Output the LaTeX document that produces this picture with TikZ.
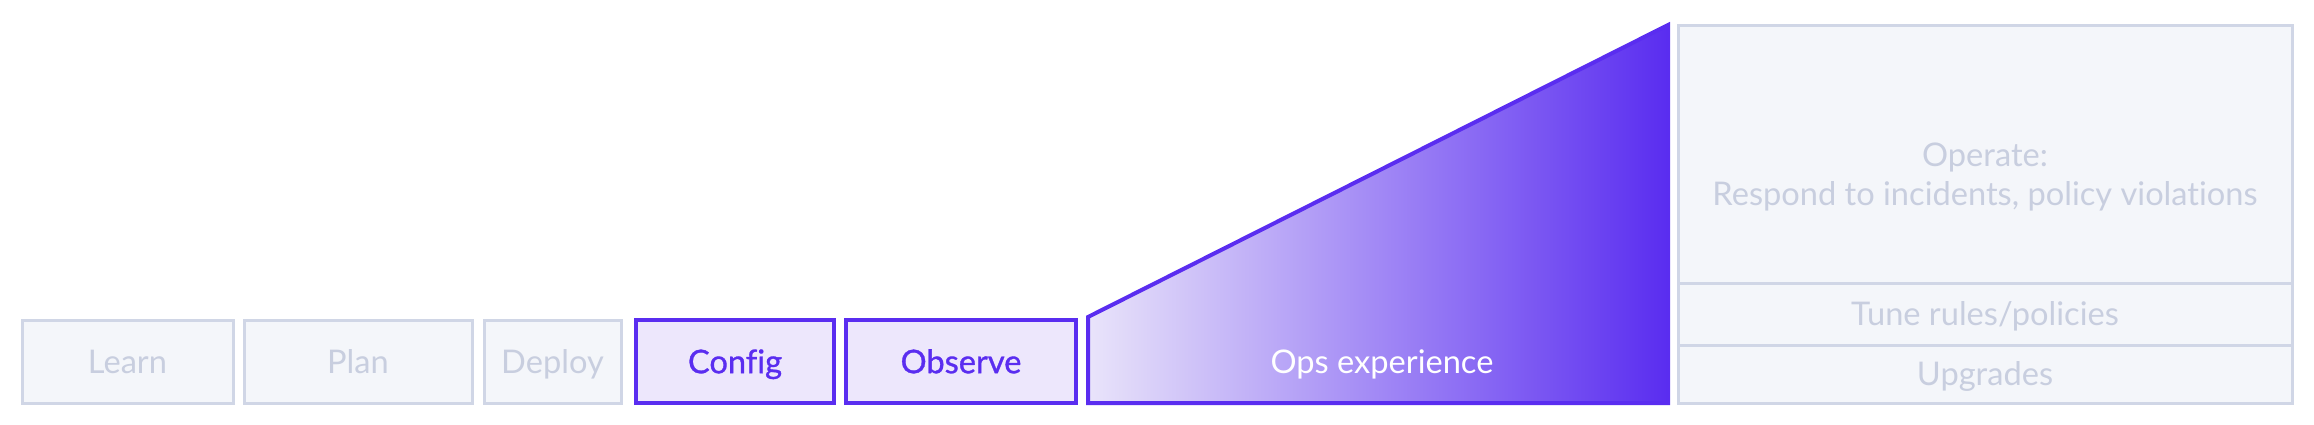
\documentclass[tikz,border=0pt]{standalone}
\usepackage{fontspec}
\setmainfont[Ligatures=NoCommon]{Lato}
\newfontfamily\medfont[FakeBold=1, Ligatures=NoCommon]{Lato}
\usepackage{tikz}
\definecolor{ops_purple}{HTML}{5A2DF0}
\definecolor{ops_lavender}{HTML}{EDE7FC}
\definecolor{ops_fade}{HTML}{E9E4FA}
\definecolor{grey_fill}{HTML}{F4F6FA}
\definecolor{grey_line}{HTML}{D0D6E6}
\definecolor{grey_text}{HTML}{C8CEDF}

\tikzset{
    labeltext/.style={inner sep=0pt, text height=11.7pt, text depth=0pt, font=\fontsize{16.3}{19.5}\selectfont},
    greybox/.style={labeltext, draw=grey_line, line width=1.5pt, fill=grey_fill, text=grey_text,
        minimum height=41.5pt},
    purplebox/.style={labeltext, draw=ops_purple, line width=2pt, fill=ops_lavender, text=ops_purple,
        minimum height=41.5pt, font=\fontsize{16.3}{19.5}\selectfont\medfont},
    panelbox/.style={greybox, minimum width=307pt}
}

\begin{document}
\begin{tikzpicture}[x=0.5pt, y=-0.5pt]
                \useasboundingbox (0,0) rectangle (2314,424);

                \node (learn) at (127.5,361.5) [greybox, minimum width=105.5pt] {Learn};
                \node (plan) at (358,361.5) [greybox, minimum width=114pt] {Plan};
                \node (deploy) at (552.5,361.5) [greybox, minimum width=68.5pt] {Deploy};
                \node (config) at (735,361.5) [purplebox, minimum width=99pt] {Config};
                \node (observe) at (961,361.5) [purplebox, minimum width=115pt] {Observe};

                \coordinate (ramp_bl) at (1088,403);
                \coordinate (ramp_tl) at (1088,317);
                \coordinate (ramp_tr) at (1668,25);
                \coordinate (ramp_br) at (1668,403);
                \path[draw=ops_purple, line width=2pt, line join=miter, left color=ops_fade, right color=ops_purple]
                    (ramp_bl) -- (ramp_tl) -- (ramp_tr) -- (ramp_br) -- cycle;
                \node (ops) at (1382,361.5) [labeltext, text=white] {Ops experience};

                \node (operate) at (1985,154) [panelbox, minimum height=129pt] {};
                \node (operate_text) at (1985,177) [text=grey_text, align=center, font=\fontsize{16.3}{19.5}\selectfont] {Operate:\\Respond to incidents, policy violations};
                \node (tune) at (1985,314) [panelbox, minimum height=31pt] {Tune rules/policies};
                \node (upgrades) at (1985,374) [panelbox, minimum height=29pt] {Upgrades};
            \end{tikzpicture}
\end{document}
